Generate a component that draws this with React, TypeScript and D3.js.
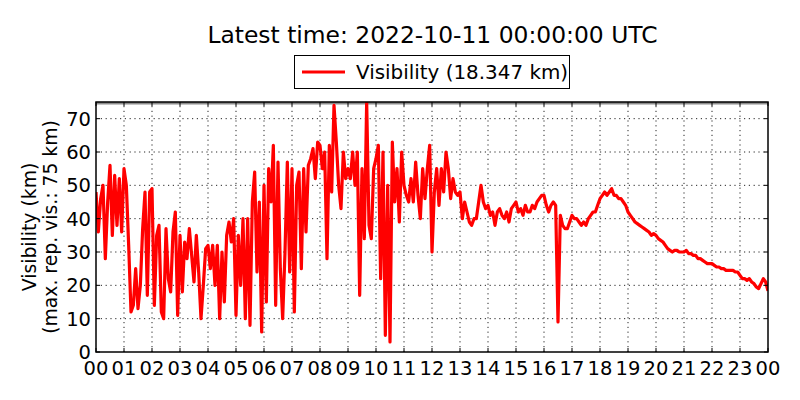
import React from "react";
import * as d3 from "d3";

// visibility readings (km), one every 5 minutes
const stepMinutes = 5;

// 00:00 - 05:55 UTC
const vis00to05 = [
  48, 36, 46, 50, 28, 45, 56, 35, 53, 38, 52, 36,
  55, 50, 32, 12, 14, 25, 13, 20, 37, 48, 17, 48,
  49, 14, 35, 38, 12, 10, 37, 22, 18, 36, 42, 11,
  35, 18, 33, 28, 37, 29, 21, 35, 24, 10, 20, 31,
  32, 25, 32, 20, 32, 10, 30, 15, 35, 39, 33, 40,
  11, 35, 20, 40, 10, 40, 8, 45, 54, 24, 45, 6,
];

// 06:00 - 11:55 UTC
const vis06to11 = [
  50, 15, 55, 45, 62, 14, 57, 25, 10, 30, 57, 24,
  55, 12, 50, 54, 25, 55, 36, 56, 58, 61, 52, 63,
  62, 55, 60, 28, 62, 48, 74, 63, 50, 43, 60, 52,
  55, 52, 60, 50, 60, 17, 55, 34, 75, 38, 34, 55,
  58, 62, 22, 60, 5, 50, 3, 63, 45, 55, 39, 60,
  50, 47, 45, 52, 45, 57, 47, 40, 55, 46, 55, 62,
];

// 12:00 - 17:55 UTC
const vis12to17 = [
  30, 48, 55, 44, 55, 48, 60, 55, 46, 52, 48, 47,
  48, 40, 45, 42, 39, 38, 40, 40, 45, 50, 45, 43,
  44, 41, 42, 38, 42, 43, 41, 40, 42, 39, 43, 44,
  45, 42, 43, 41, 44, 42, 42, 44, 43, 45, 46, 47,
  47, 44, 42, 44, 45, 44, 9, 41, 38, 37, 37, 39,
  41, 40, 40, 39, 38, 39, 38, 40, 41, 42, 42, 44,
];

// 18:00 - 23:55 UTC
const vis18to23 = [
  46, 47, 48, 47, 48, 49, 47, 47, 46, 46, 45, 44,
  42, 41, 40, 39, 38.5, 38, 37.5, 37, 36.5, 36, 35, 35.5,
  35, 34, 33.5, 33, 32, 31, 30.5, 30, 30.5, 30.5, 30, 30,
  30, 30.5, 29.5, 29.5, 29, 29, 28, 28, 27.5, 27, 26.5, 26.5,
  26.5, 26, 25.5, 25.5, 25, 25, 24.5, 24.5, 24.5, 24.5, 24, 24,
  23, 22, 22, 21.5, 22, 21, 20.5, 19.5, 19, 20.5, 22, 21,
];

const latestValue = 18.347;
const maxRepVis = 75;
const hourTicks = d3.range(0, 25);
const yTicks = [0, 10, 20, 30, 40, 50, 60, 70];

const visibility = [...vis00to05, ...vis06to11, ...vis12to17, ...vis18to23, latestValue];

const W = 800;
const H = 400;
const margin = { top: 102, right: 32, bottom: 48, left: 96 };
const FONT = "DejaVu Sans, sans-serif";

export default function App() {
  const x = d3.scaleLinear().domain([0, 24]).range([margin.left, W - margin.right]);
  const y = d3.scaleLinear().domain([0, 75]).range([H - margin.bottom, margin.top]);

  const line = d3
    .line<number>()
    .x((d, i) => x((i * stepMinutes) / 60))
    .y((d) => y(d));

  const [x0, x1] = x.range();
  const [y0, y1] = y.range();
  const tickLen = 4;

  return (
    <div style={{ position: "absolute", left: 0, top: 0 }}>
      <svg width={W} height={H} style={{ display: "block", background: "#fff" }} fontFamily={FONT}>
        <defs>
          <clipPath id="plot-clip">
            <rect x={x0} y={y1} width={x1 - x0} height={y0 - y1} />
          </clipPath>
        </defs>

        {/* title */}
        <text x={432.5} y={43} textAnchor="middle" fontSize={23.4} fill="#000">
          Latest time: 2022-10-11 00:00:00 UTC
        </text>

        {/* legend */}
        <rect x={294.5} y={55.5} width={275} height={33} fill="#fff" stroke="#000" strokeWidth={1} />
        <line x1={302} x2={345} y1={72} y2={72} stroke="#ff0000" strokeWidth={3} />
        <text x={356} y={79} fontSize={19.9} fill="#000">
          Visibility ({latestValue.toFixed(3)} km)
        </text>

        {/* grid */}
        <g stroke="#000" strokeWidth={1} strokeDasharray="1.2,3.6" opacity={0.85}>
          {hourTicks.slice(1, -1).map((h) => (
            <line key={"gx" + h} x1={x(h)} x2={x(h)} y1={y0} y2={y1} />
          ))}
          {yTicks.slice(1).map((v) => (
            <line key={"gy" + v} x1={x0} x2={x1} y1={y(v)} y2={y(v)} />
          ))}
        </g>

        {/* max reportable visibility + data */}
        <g clipPath="url(#plot-clip)">
          <line x1={x0} x2={x1} y1={y(maxRepVis)} y2={y(maxRepVis)} stroke="#8c8c8c" strokeWidth={5} />
          <path
            d={line(visibility) ?? ""}
            fill="none"
            stroke="#ff0000"
            strokeWidth={3.2}
            strokeLinejoin="round"
          />
        </g>

        {/* ticks, inward on all sides */}
        <g stroke="#000" strokeWidth={1}>
          {hourTicks.map((h) => (
            <g key={"tx" + h}>
              <line x1={x(h)} x2={x(h)} y1={y0} y2={y0 - tickLen} />
              <line x1={x(h)} x2={x(h)} y1={y1} y2={y1 + tickLen} />
            </g>
          ))}
          {yTicks.map((v) => (
            <g key={"ty" + v}>
              <line x1={x0} x2={x0 + tickLen} y1={y(v)} y2={y(v)} />
              <line x1={x1} x2={x1 - tickLen} y1={y(v)} y2={y(v)} />
            </g>
          ))}
        </g>

        {/* frame */}
        <rect x={x0} y={y1} width={x1 - x0} height={y0 - y1} fill="none" stroke="#000" strokeWidth={1.5} />

        {/* tick labels */}
        <g fontSize={19.5} fill="#000">
          {hourTicks.map((h) => (
            <text key={"lx" + h} x={x(h)} y={y0 + 23} textAnchor="middle">
              {String(h % 24).padStart(2, "0")}
            </text>
          ))}
          {yTicks.map((v) => (
            <text key={"ly" + v} x={x0 - 5} y={y(v) + 7} textAnchor="end">
              {v}
            </text>
          ))}
        </g>

        {/* y label */}
        <g fontSize={18.8} fill="#000" textAnchor="middle">
          <text transform={`translate(36,${(y0 + y1) / 2}) rotate(-90)`}>Visibility (km)</text>
          <text transform={`translate(57,${(y0 + y1) / 2}) rotate(-90)`}>(max. rep. vis.: 75 km)</text>
        </g>
      </svg>
    </div>
  );
}
